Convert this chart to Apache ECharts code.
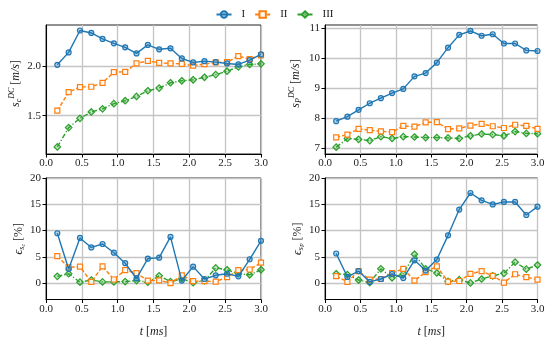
<!DOCTYPE html>
<html><head><meta charset="utf-8">
<script src="https://cdn.jsdelivr.net/npm/echarts@6/dist/echarts.min.js"></script>
<style>html,body{margin:0;padding:0;background:#fff}#c{width:549px;height:339px}</style>
</head><body><div id="c"></div><script>
// time samples [ms]
const t = [0.158,0.316,0.474,0.632,0.789,0.947,1.105,1.263,1.421,1.579,1.737,1.895,2.053,2.211,2.368,2.526,2.684,2.842,3.0];
const names = ['I','II','III'];
// top-left: s_c^DC [m/s]
const scI   = [2.01,2.135,2.355,2.33,2.27,2.226,2.186,2.125,2.21,2.166,2.176,2.074,2.034,2.047,2.037,2.024,2.014,2.057,2.115];
const scII  = [1.55,1.736,1.787,1.79,1.83,1.936,1.94,2.024,2.05,2.03,2.024,2.02,2.003,2.017,2.034,2.037,2.098,2.068,2.105];
const scIII = [1.186,1.38,1.473,1.537,1.568,1.62,1.65,1.693,1.75,1.777,1.83,1.85,1.86,1.885,1.912,1.946,1.99,2.014,2.02];
// top-right: s_P^DC [m/s]
const spI   = [7.9,8.05,8.28,8.5,8.67,8.84,8.98,9.4,9.51,9.86,10.36,10.79,10.92,10.76,10.81,10.5,10.5,10.27,10.25];
const spII  = [7.36,7.45,7.64,7.6,7.56,7.53,7.74,7.72,7.86,7.87,7.63,7.66,7.75,7.81,7.73,7.67,7.78,7.74,7.64];
const spIII = [7.03,7.32,7.29,7.25,7.38,7.32,7.38,7.37,7.35,7.35,7.34,7.32,7.41,7.47,7.45,7.41,7.55,7.49,7.48];
// bottom-left: eps_sc [%]
const ecI   = [9.5,2.7,8.6,6.8,7.45,5.8,3.8,0.9,4.67,4.85,8.8,0.5,3.15,0.8,1.5,1.8,1.3,4.55,8.05];
const ecII  = [5.15,3.0,3.15,0.25,3.2,0.7,2.5,1.9,0.5,0.55,0.0,1.5,0.4,0.4,0.3,1.15,2.5,2.6,3.9];
const ecIII = [1.3,1.8,0.2,0.6,0.25,0.25,0.3,0.5,0.2,1.4,0.3,0.85,0.1,0.5,2.9,2.55,1.8,1.6,2.55];
// bottom-right: eps_sP [%]
const epI   = [5.65,1.2,2.3,0.25,0.8,1.75,0.97,4.35,2.4,4.5,9.1,14.0,17.15,15.75,14.97,15.45,15.45,12.97,14.55];
const epII  = [1.33,0.25,2.3,0.67,0.8,1.94,2.73,0.5,2.1,3.2,0.3,0.42,1.76,2.3,1.4,0.12,1.7,1.15,0.67];
const epIII = [1.8,1.63,0.6,0.12,2.73,1.03,1.76,5.5,2.73,1.94,0.36,0.67,0.06,0.8,1.4,1.88,4.0,2.67,3.45];
// ticks
const yTicksSc = [1.5,2.0];
const yTicksSp = [7,8,9,10,11];
const yTicksE = [0,5,10,15,20];

const FONT = 'Liberation Serif';
const colors = ['#1f77b4','#ff7f0e','#2ca02c'];
const fills = ['rgba(31,119,180,0.35)','rgba(255,255,255,0.9)','rgba(44,160,44,0.3)'];
const symbols = ['circle','rect','diamond'];
const symSizes = [5,5,6.5];
const lineTypes = ['solid',[4,2],[5,2,1.2,2]];

const grids = [
  {left:46, top:25, width:215, height:129},
  {left:325, top:25, width:212.5, height:129},
  {left:46, top:178, width:215, height:127.5},
  {left:325, top:178, width:212.5, height:127.5}
];
const data = [[scI,scII,scIII],[spI,spII,spIII],[ecI,ecII,ecIII],[epI,epII,epIII]];
const yCfg = [
  {min:1.115,max:2.41,ticks:yTicksSc,fmt:v=>v.toFixed(1),name:'{i|s}{sub|c}{sup|DC} [{i|m/s}]',gap:22},
  {min:6.8,max:11.12,ticks:yTicksSp,fmt:v=>String(Math.round(v)),name:'{i|s}{sub|P}{sup|DC} [{i|m/s}]',gap:22},
  {min:-3.1,max:20,ticks:yTicksE,fmt:v=>String(Math.round(v)),name:'{i|ϵ}{sub|s}{subsub|c} [%]',gap:8},
  {min:-3.1,max:20,ticks:yTicksE,fmt:v=>String(Math.round(v)),name:'{i|ϵ}{sub|s}{subsub|P} [%]',gap:18}
];
const rich = {
  i:{fontFamily:FONT,fontStyle:'italic',fontSize:12,lineHeight:15,color:'#222'},
  sub:{fontFamily:FONT,fontStyle:'italic',fontSize:8,verticalAlign:'bottom',lineHeight:10,color:'#222'},
  subsub:{fontFamily:FONT,fontStyle:'italic',fontSize:6,verticalAlign:'bottom',lineHeight:6,color:'#222'},
  sup:{fontFamily:FONT,fontStyle:'italic',fontSize:8,verticalAlign:'top',lineHeight:10,color:'#222'}
};
const gridLine = {show:true,lineStyle:{color:'#c4c4c4',width:1.3}};
const xAxes = grids.map((g,i)=>({
  type:'value',gridIndex:i,min:0,max:3,interval:0.5,
  axisLine:{onZero:false,lineStyle:{color:'#000',width:1}},
  axisTick:{show:true,length:3.5,lineStyle:{color:'#000'}},
  axisLabel:{fontFamily:FONT,fontSize:11,color:'#222',margin:4,formatter:v=>v.toFixed(1)},
  splitLine:gridLine,
  name: i>=2 ? '{i|t} [{i|ms}]' : '',
  nameLocation:'middle',nameGap:25,
  nameTextStyle:{fontFamily:FONT,fontSize:12,color:'#222',rich:rich}
}));
const yAxes = grids.map((g,i)=>({
  type:'value',gridIndex:i,min:yCfg[i].min,max:yCfg[i].max,
  axisLine:{show:true,onZero:false,lineStyle:{color:'#000',width:1}},
  axisTick:{show:true,length:3.5,lineStyle:{color:'#000'},customValues:yCfg[i].ticks},
  axisLabel:{fontFamily:FONT,fontSize:11,color:'#222',margin:5,customValues:yCfg[i].ticks,formatter:yCfg[i].fmt},
  splitLine:gridLine,
  name:yCfg[i].name,nameLocation:'middle',nameRotate:90,nameGap:yCfg[i].gap,
  nameTextStyle:{fontFamily:FONT,fontSize:12,color:'#222',rich:rich,padding:[0,0,0,i<2?12:0]}
}));
const series = [];
data.forEach((trip,gi)=>{
  trip.forEach((arr,si)=>{
    series.push({
      type:'line',name:names[si],xAxisIndex:gi,yAxisIndex:gi,
      data:t.map((x,k)=>[x,arr[k]]),
      symbol:symbols[si],symbolSize:symSizes[si],showSymbol:true,
      lineStyle:{color:colors[si],width:1.4,type:lineTypes[si]},
      itemStyle:{color:fills[si],borderColor:colors[si],borderWidth:1.2},
      z:3-si,animation:false
    });
  });
});
const chart = echarts.init(document.getElementById('c'),null,{renderer:'canvas'});
chart.setOption({
  animation:false,
  grid:grids.map(g=>Object.assign({show:true,borderColor:'#222',borderWidth:1,backgroundColor:'transparent'},g)),
  legend:{data:names,top:4,left:'center',itemWidth:15,itemHeight:8,itemGap:9,
    textStyle:{fontFamily:FONT,fontSize:11,color:'#222',padding:[0,0,0,5]}},
  xAxis:xAxes,yAxis:yAxes,series:series
});
</script></body></html>
